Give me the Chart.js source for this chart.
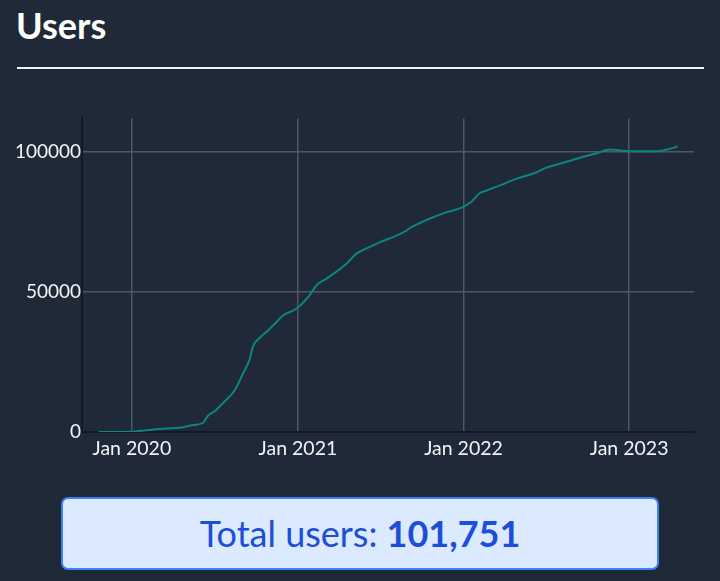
<!DOCTYPE html>
<html>
<head>
<meta charset="utf-8">
<script src="https://cdn.jsdelivr.net/npm/chart.js@4.4.1/dist/chart.umd.min.js"></script>
<style>
  html, body { margin: 0; padding: 0; }
  body { width: 720px; height: 581px; background: #1f2937; position: relative; overflow: hidden; font-family: Lato, "Noto Sans", sans-serif; }
  #title { position: absolute; left: 16px; top: 4px; margin: 0; color: #ffffff; font-size: 36px; font-weight: 700; line-height: 42px; }
  #rule { position: absolute; left: 17px; top: 67px; width: 687px; height: 2px; background: #f3f4f6; }
  #chartWrap { position: absolute; left: 0; top: 106px; width: 720px; height: 364px; }
  #total { position: absolute; left: 61px; top: 497px; width: 594px; height: 69px; border: 2px solid #3b82f6; border-radius: 7px; background: #dbeafe; color: #1d4ed8; font-size: 36px; line-height: 69px; text-align: center; }
  #total b { font-weight: 700; }
</style>
</head>
<body>
<h1 id="title">Users</h1>
<div id="rule"></div>
<div id="chartWrap"><canvas id="usersChart"></canvas></div>
<div id="total">Total users: <b id="totalValue"></b></div>
<script>
// cumulative users
var dates = [
  "2019-10-19", "2019-12-28", "2020-02-02", "2020-03-10", "2020-04-16", "2020-05-15",
  "2020-06-06", "2020-06-17", "2020-07-02", "2020-07-20", "2020-08-15", "2020-09-02",
  "2020-09-16", "2020-09-24", "2020-10-09", "2020-10-28", "2020-11-08", "2020-11-30",
  "2020-12-29", "2021-01-27", "2021-02-11", "2021-03-05", "2021-04-18", "2021-05-10",
  "2021-06-09", "2021-07-01", "2021-07-30", "2021-08-25", "2021-09-09", "2021-10-19",
  "2021-11-25", "2021-12-28", "2022-01-19", "2022-02-06", "2022-02-21", "2022-03-22",
  "2022-04-21", "2022-06-11", "2022-06-26", "2022-08-09", "2022-09-15", "2022-10-22",
  "2022-11-20", "2022-12-12", "2023-01-03", "2023-03-03", "2023-03-25", "2023-04-18"
];
var users = [
  0, 100, 600, 1200, 1500, 2500,
  3300, 5900, 7500, 10400, 15000, 20900,
  25600, 30600, 33600, 36300, 38100, 41600,
  44000, 48800, 52300, 54700, 60000, 63600,
  66000, 67700, 69500, 71500, 73100, 76100,
  78400, 80000, 82200, 85200, 86100, 87900,
  89900, 92600, 93800, 96000, 97800, 99400,
  100700, 100400, 100100, 100100, 100700, 101751
];
var xTickYears = [2020, 2021, 2022, 2023];
var yTicks = [0, 50000, 100000];
var totalUsers = 101751;

var monthNames = ["Jan", "Feb", "Mar", "Apr", "May", "Jun", "Jul", "Aug", "Sep", "Oct", "Nov", "Dec"];

function toTime(s) {
  var p = s.split("-");
  return Date.UTC(+p[0], +p[1] - 1, +p[2]);
}

var points = [];
for (var i = 0; i < dates.length; i++) {
  points.push({ x: toTime(dates[i]), y: users[i] });
}

document.getElementById("totalValue").textContent = totalUsers.toLocaleString("en-US");

var gridColor = "#4f5865";
var axisColor = "#111827";
var labelColor = "#f3f4f6";

var ctx = document.getElementById("usersChart");
var usersChart = new Chart(ctx, {
  type: "line",
  data: {
    datasets: [{
      label: "Users",
      data: points,
      borderColor: "#0d8580",
      borderWidth: 2,
      pointRadius: 0,
      fill: false,
      cubicInterpolationMode: "monotone"
    }]
  },
  options: {
    responsive: true,
    maintainAspectRatio: false,
    animation: false,
    layout: { padding: { top: 0, right: 26, left: 0, bottom: 0 } },
    plugins: { legend: { display: false }, tooltip: { enabled: false } },
    scales: {
      x: {
        type: "linear",
        min: toTime("2019-09-13"),
        max: toTime("2023-05-24"),
        afterBuildTicks: function (scale) {
          scale.ticks = xTickYears.map(function (y) { return { value: Date.UTC(y, 0, 1) }; });
        },
        afterFit: function (scale) { scale.height = 38; },
        grid: { color: gridColor, lineWidth: 1.5, drawTicks: false },
        border: { color: axisColor, width: 2 },
        ticks: {
          autoSkip: false,
          maxRotation: 0,
          padding: 5,
          color: labelColor,
          font: { family: "Lato", size: 19.5 },
          callback: function (value) {
            var d = new Date(value);
            return monthNames[d.getUTCMonth()] + " " + d.getUTCFullYear();
          }
        }
      },
      y: {
        min: 0,
        max: 111800,
        afterBuildTicks: function (scale) {
          scale.ticks = yTicks.map(function (v) { return { value: v }; });
        },
        afterFit: function (scale) { scale.width = 82; },
        grid: { color: gridColor, lineWidth: 1.5, drawTicks: false },
        border: { color: axisColor, width: 2 },
        ticks: {
          padding: 1,
          color: labelColor,
          font: { family: "Lato", size: 19 },
          callback: function (value) { return String(value); }
        }
      }
    }
  }
});
</script>
</body>
</html>
